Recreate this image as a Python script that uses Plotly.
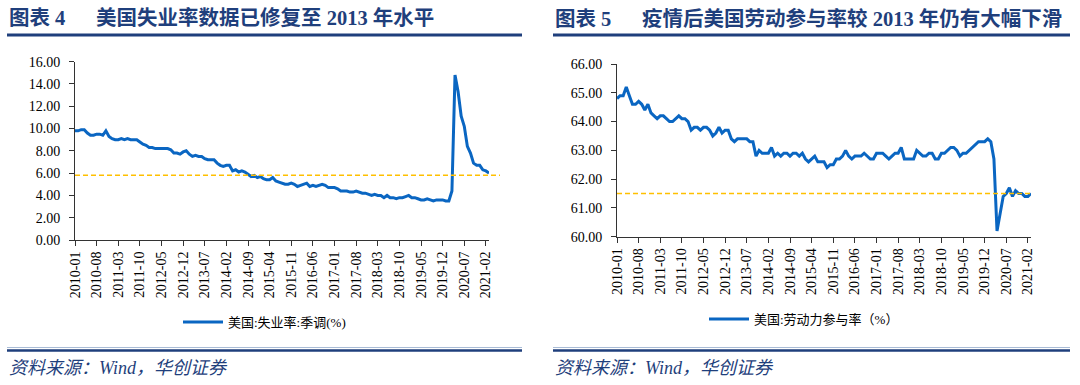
import pandas as pd
import plotly.graph_objects as go

# ---------------- data ----------------
months = [d.strftime("%Y-%m") for d in pd.date_range("2010-01-01", "2021-03-01", freq="MS")]

unemployment = [
    9.8, 9.8, 9.9, 9.9, 9.6, 9.4, 9.4, 9.5, 9.5, 9.4, 9.8, 9.3,
    9.1, 9.0, 9.0, 9.1, 9.0, 9.1, 9.0, 9.0, 9.0, 8.8, 8.6, 8.5,
    8.3, 8.3, 8.2, 8.2, 8.2, 8.2, 8.2, 8.1, 7.8, 7.8, 7.7, 7.9,
    8.0, 7.7, 7.5, 7.6, 7.5, 7.5, 7.3, 7.2, 7.2, 7.2, 6.9, 6.7,
    6.6, 6.7, 6.7, 6.2, 6.3, 6.1, 6.2, 6.1, 5.9, 5.7, 5.8, 5.6,
    5.7, 5.5, 5.4, 5.4, 5.6, 5.3, 5.2, 5.1, 5.0, 5.0, 5.1, 5.0,
    4.8, 4.9, 5.0, 5.1, 4.8, 4.9, 4.8, 4.9, 5.0, 4.9, 4.7, 4.7,
    4.7, 4.6, 4.4, 4.4, 4.4, 4.3, 4.3, 4.4, 4.3, 4.2, 4.2, 4.1,
    4.0, 4.1, 4.0, 4.0, 3.8, 4.0, 3.8, 3.8, 3.7, 3.8, 3.8, 3.9,
    4.0, 3.8, 3.8, 3.7, 3.6, 3.6, 3.7, 3.6, 3.5, 3.6, 3.6, 3.6,
    3.5, 3.5, 4.4, 14.8, 13.3, 11.1, 10.2, 8.4, 7.8, 6.9, 6.7, 6.7,
    6.3, 6.2, 6.0,
]

participation = [
    64.8, 64.9, 64.9, 65.2, 64.9, 64.6, 64.6, 64.7, 64.6, 64.4, 64.6, 64.3,
    64.2, 64.1, 64.2, 64.2, 64.1, 64.0, 64.0, 64.1, 64.2, 64.1, 64.1, 64.0,
    63.7, 63.8, 63.8, 63.7, 63.8, 63.8, 63.7, 63.5, 63.6, 63.8, 63.6, 63.7,
    63.7, 63.4, 63.3, 63.4, 63.4, 63.4, 63.4, 63.3, 63.3, 62.8, 63.0, 62.9,
    62.9, 62.9, 63.1, 62.8, 62.9, 62.8, 62.9, 62.9, 62.8, 62.9, 62.9, 62.8,
    62.9, 62.7, 62.6, 62.7, 62.8, 62.6, 62.6, 62.6, 62.4, 62.5, 62.5, 62.7,
    62.7, 62.8, 63.0, 62.8, 62.7, 62.8, 62.8, 62.8, 62.9, 62.8, 62.7, 62.7,
    62.9, 62.9, 62.9, 62.8, 62.7, 62.8, 62.9, 62.9, 63.1, 62.7, 62.7, 62.7,
    62.7, 63.0, 62.9, 62.8, 62.8, 62.9, 62.9, 62.7, 62.7, 62.9, 62.9, 63.0,
    63.1, 63.1, 63.0, 62.8, 62.9, 62.9, 63.0, 63.1, 63.2, 63.3, 63.3, 63.3,
    63.4, 63.3, 62.7, 60.2, 60.8, 61.4, 61.5, 61.7, 61.4, 61.6, 61.5, 61.5,
    61.4, 61.4, 61.5,
]

tick_labels = [
    "2010-01", "2010-08", "2011-03", "2011-10", "2012-05", "2012-12", "2013-07",
    "2014-02", "2014-09", "2015-04", "2015-11", "2016-06", "2017-01", "2017-08",
    "2018-03", "2018-10", "2019-05", "2019-12", "2020-07", "2021-02",
]

ref_unemployment = 5.8
ref_participation = 61.5

title_left = "图表\u00a04\u00a0\u00a0\u00a0\u00a0\u00a0\u00a0美国失业率数据已修复至 2013 年水平"
title_right = "图表\u00a05\u00a0\u00a0\u00a0\u00a0\u00a0\u00a0疫情后美国劳动参与率较 2013 年仍有大幅下滑"
legend_left = "美国:失业率:季调(%)"
legend_right = "美国:劳动力参与率（%）"
source_text = "资料来源：Wind，华创证券"

# ---------------- style ----------------
W, H = 1080, 385
LINE = "#0A66C2"
GOLD = "#FFC000"
NAVY = "#1F3F7C"
FONT = "Liberation Serif, Noto Sans CJK SC, serif"


def px(x):
    return x / W


def py(y):
    return 1 - y / H


fig = go.Figure()
fig.add_trace(go.Scatter(x=months, y=unemployment, mode="lines", name=legend_left,
                         line=dict(color=LINE, width=3), xaxis="x", yaxis="y",
                         legend="legend"))
fig.add_trace(go.Scatter(x=months, y=participation, mode="lines", name=legend_right,
                         line=dict(color=LINE, width=3), xaxis="x2", yaxis="y2",
                         legend="legend2"))

axis_common = dict(showgrid=False, zeroline=False, showline=True, linecolor="#333333",
                   linewidth=1, ticks="outside", ticklen=5, tickcolor="#333333",
                   automargin=False,
                   tickfont=dict(family=FONT, size=14, color="#000000"))

xcommon = dict(axis_common, type="category", tickmode="array", tickvals=tick_labels,
               ticktext=tick_labels, tickangle=-90, range=[0, len(months) - 1])

ycommon = dict(axis_common, tickformat=".2f", ticklabelstandoff=6)

fig.update_layout(
    width=W, height=H, autosize=False,
    margin=dict(l=0, r=0, t=0, b=0, pad=0, autoexpand=False),
    paper_bgcolor="white", plot_bgcolor="white",
    font=dict(family=FONT, color="#000000"),
    hovermode=False,
    xaxis=dict(xcommon, domain=[px(75), px(489)], anchor="y"),
    yaxis=dict(ycommon, domain=[py(240), py(61.7)], range=[0, 16], dtick=2, anchor="x"),
    xaxis2=dict(xcommon, domain=[px(617), px(1031)], anchor="y2"),
    yaxis2=dict(ycommon, domain=[py(236.7), py(64)], range=[60, 66], dtick=1, anchor="x2"),
    legend=dict(x=px(178), y=py(322), xanchor="left", yanchor="middle",
                font=dict(family=FONT, size=13, color="#000000"),
                bgcolor="rgba(0,0,0,0)", itemwidth=40),
    legend2=dict(x=px(704), y=py(319), xanchor="left", yanchor="middle",
                 font=dict(family=FONT, size=13, color="#000000"),
                 bgcolor="rgba(0,0,0,0)", itemwidth=40),
    showlegend=True,
)

shapes = [
    # reference dashed lines
    dict(type="line", xref="paper", yref="y", x0=px(75), x1=px(500),
         y0=ref_unemployment, y1=ref_unemployment,
         line=dict(color=GOLD, width=1.5, dash="5px,3px")),
    dict(type="line", xref="paper", yref="y2", x0=px(617), x1=px(1032),
         y0=ref_participation, y1=ref_participation,
         line=dict(color=GOLD, width=1.5, dash="5px,3px")),
]
# title underlines and bottom rules
for x0, x1 in [(7, 522), (553, 1070)]:
    shapes.append(dict(type="line", xref="paper", yref="paper", x0=px(x0), x1=px(x1),
                       y0=py(35), y1=py(35), line=dict(color=NAVY, width=3)))
    shapes.append(dict(type="line", xref="paper", yref="paper", x0=px(x0), x1=px(x1),
                       y0=py(347.5), y1=py(347.5), line=dict(color="#A9BCD6", width=1)))
    shapes.append(dict(type="line", xref="paper", yref="paper", x0=px(x0), x1=px(x1),
                       y0=py(350.5), y1=py(350.5), line=dict(color=NAVY, width=2.5)))
fig.update_layout(shapes=shapes)

annotations = []
for x0, txt in [(7, title_left), (553, title_right)]:
    annotations.append(dict(xref="paper", yref="paper", x=px(x0), y=py(18.5),
                            xanchor="left", yanchor="middle", showarrow=False,
                            text="<b>" + txt + "</b>",
                            font=dict(family=FONT, size=20.5, color=NAVY)))
for x0 in [7, 553]:
    annotations.append(dict(xref="paper", yref="paper", x=px(x0), y=py(368),
                            xanchor="left", yanchor="middle", showarrow=False,
                            text="<i>" + source_text + "</i>",
                            font=dict(family=FONT, size=18, color=NAVY)))
fig.update_layout(annotations=annotations)

fig.write_html("out.html", config={"displayModeBar": False},
               post_script="document.body.style.margin='0px';")
